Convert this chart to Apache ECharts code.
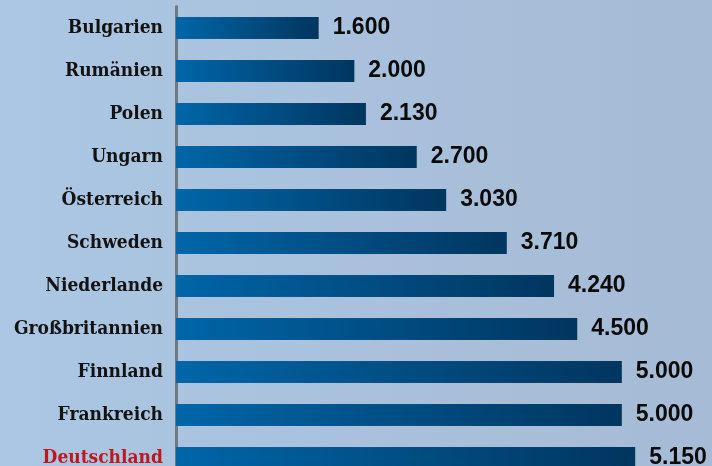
<!DOCTYPE html>
<html>
<head>
<meta charset="utf-8">
<script src="https://cdn.jsdelivr.net/npm/echarts@6/dist/echarts.min.js"></script>
<style>
  html, body { margin: 0; padding: 0; }
  #chart { width: 712px; height: 466px; }
</style>
</head>
<body>
<div id="chart"></div>
<script>
    // Länder (von oben nach unten)
    const countries = ["Bulgarien", "Rumänien", "Polen", "Ungarn", "Österreich", "Schweden",
        "Niederlande", "Großbritannien", "Finnland", "Frankreich", "Deutschland"];
    const values = [1600, 2000, 2130, 2700, 3030, 3710, 4240, 4500, 5000, 5000, 5150];
    const highlight = "Deutschland";

    const chart = echarts.init(document.getElementById("chart"));

    // Tausenderpunkt wie im Original
    const fmt = v => v.toLocaleString("de-DE");
    const serif = "'DejaVu Serif Condensed', 'DejaVu Serif'";

    const option = {
        animation: false,
        backgroundColor: new echarts.graphic.LinearGradient(0, 0, 1, 0, [
            { offset: 0, color: "#abc7e3" },
            { offset: 1, color: "#a6bbd5" }
        ]),
        grid: { left: 176, right: 1, top: 6.5, height: 473, outerBoundsMode: "none", containLabel: false },
        xAxis: {
            type: "value",
            min: 0,
            max: 6000,
            show: false
        },
        yAxis: {
            type: "category",
            data: countries,
            inverse: true,
            axisLine: { show: true, lineStyle: { color: "#707a85", width: 3 } },
            axisTick: { show: false },
            axisLabel: {
                margin: 13,
                fontFamily: serif,
                fontWeight: "bold",
                fontSize: 19,
                color: "#121212",
                formatter: v => v === highlight ? "{hl|" + v + "}" : v,
                rich: {
                    hl: {
                        fontFamily: serif,
                        fontWeight: "bold",
                        fontSize: 19,
                        color: "#c0161c"
                    }
                }
            }
        },
        series: [{
            type: "bar",
            data: values,
            barWidth: 22,
            itemStyle: {
                color: new echarts.graphic.LinearGradient(0, 0, 1, 0, [
                    { offset: 0, color: "#0066a8" },
                    { offset: 1, color: "#00365f" }
                ])
            },
            label: {
                show: true,
                position: "right",
                distance: 14,
                fontFamily: "Liberation Sans",
                fontWeight: "bold",
                fontSize: 23,
                color: "#0a0a0a",
                formatter: p => fmt(p.value)
            }
        }]
    };

    chart.setOption(option);
</script>
</body>
</html>
